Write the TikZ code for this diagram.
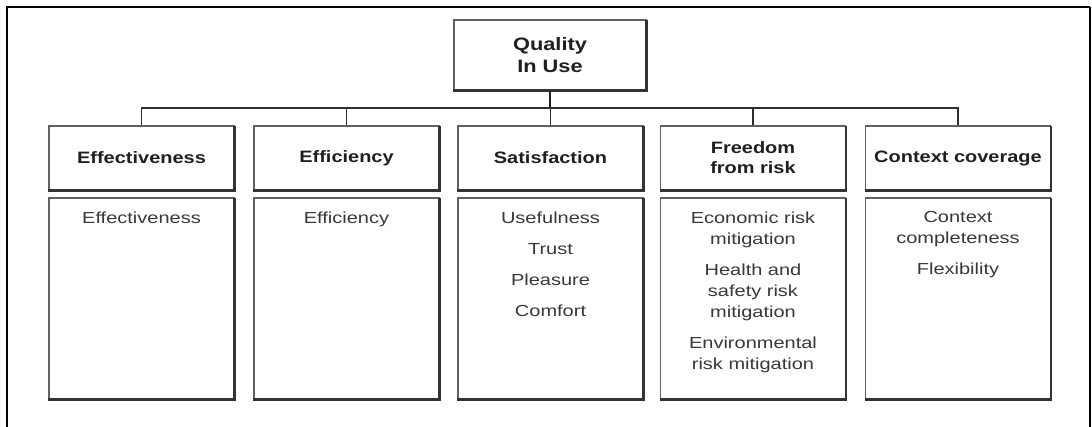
\documentclass[tikz,border=0pt]{standalone}
\usepackage{fontspec}
\setmainfont{Liberation Sans}[FakeStretch=1.21]
\newfontfamily\panelfont{Liberation Sans}[FakeStretch=1.25]
\begin{document}
\begin{tikzpicture}[x=1pt,y=-1pt,
  boxline/.style={draw=black!62,line width=1.1pt},
  shadowline/.style={draw=black!80,line width=2.2pt},
  titlebox/.style={boxline,minimum width=192pt,minimum height=70pt,inner sep=0pt,
    align=center,font=\fontsize{18}{22}\selectfont\bfseries,text=black!88},
  headbox/.style={boxline,minimum width=185pt,minimum height=64pt,inner sep=0pt,
    align=center,font=\fontsize{16.5}{20}\selectfont\bfseries,text=black!88},
  bodybox/.style={boxline,minimum width=185pt,minimum height=201pt,inner sep=0pt},
  bodytext/.style={anchor=north,inner sep=0pt,align=center,
    font=\panelfont\fontsize{16}{21}\selectfont,text=black!78},
  link/.style={draw=black!82,line width=1.6pt},
  stem/.style={draw=black!88,line width=2.4pt}]
\useasboundingbox (0,0) rectangle (1092,426);

% outer frame, open at the bottom
\draw[line width=2.8pt] (7,430) -- (7,7) -- (1090,7);
\draw[line width=1.4pt] (1090,7) -- (1090,430);

% root
\node[titlebox] (root) at (550,55) {Quality\\In Use};

% characteristic headers
\node[headbox] (h1) at (141.5,158) {Effectiveness};
\node[headbox] (h2) at (346.5,158) {Efficiency};
\node[headbox] (h3) at (550.5,158) {Satisfaction};
\node[headbox] (h4) at (753,158) {Freedom\\from risk};
\node[headbox] (h5) at (958,158) {Context coverage};

% sub-characteristic panels
\node[bodybox] (b1) at (141.5,298.5) {};
\node[bodybox] (b2) at (346.5,298.5) {};
\node[bodybox] (b3) at (550.5,298.5) {};
\node[bodybox] (b4) at (753,298.5) {};
\node[bodybox] (b5) at (958,298.5) {};

% darker right and bottom edges
\foreach \n in {root,h1,h2,h3,h4,h5,b1,b2,b3,b4,b5}
  \draw[shadowline] ([yshift=-1pt]\n.north east) -- (\n.south east) -- (\n.south west);

% panel texts
\node[bodytext] (t1) at ([yshift=-14pt]b1.north) {Effectiveness};
\node[bodytext] (t2) at ([yshift=-14pt]b2.north) {Efficiency};
\node[bodytext] (t3) at ([yshift=-14pt]b3.north) {Usefulness\\[10pt]Trust\\[10pt]Pleasure\\[10pt]Comfort};
\node[bodytext] (t4) at ([yshift=-14pt]b4.north) {Economic risk\\mitigation\\[10pt]Health and\\safety risk\\mitigation\\[10pt]Environmental\\risk mitigation};
\node[bodytext] (t5) at ([yshift=-14pt]b5.north) {Context\\completeness\\[10pt]Flexibility};

% tree connectors
\coordinate (bar) at (550,108);
\draw[stem] (root.south) -- (root.south |- bar);
\draw[link] (h1.north) -- (h1.north |- bar) -- (h5.north |- bar) -- (h5.north);
\foreach \n in {h2,h3,h4}
  \draw[link] (\n.north) -- (\n.north |- bar);
\end{tikzpicture}
\end{document}
